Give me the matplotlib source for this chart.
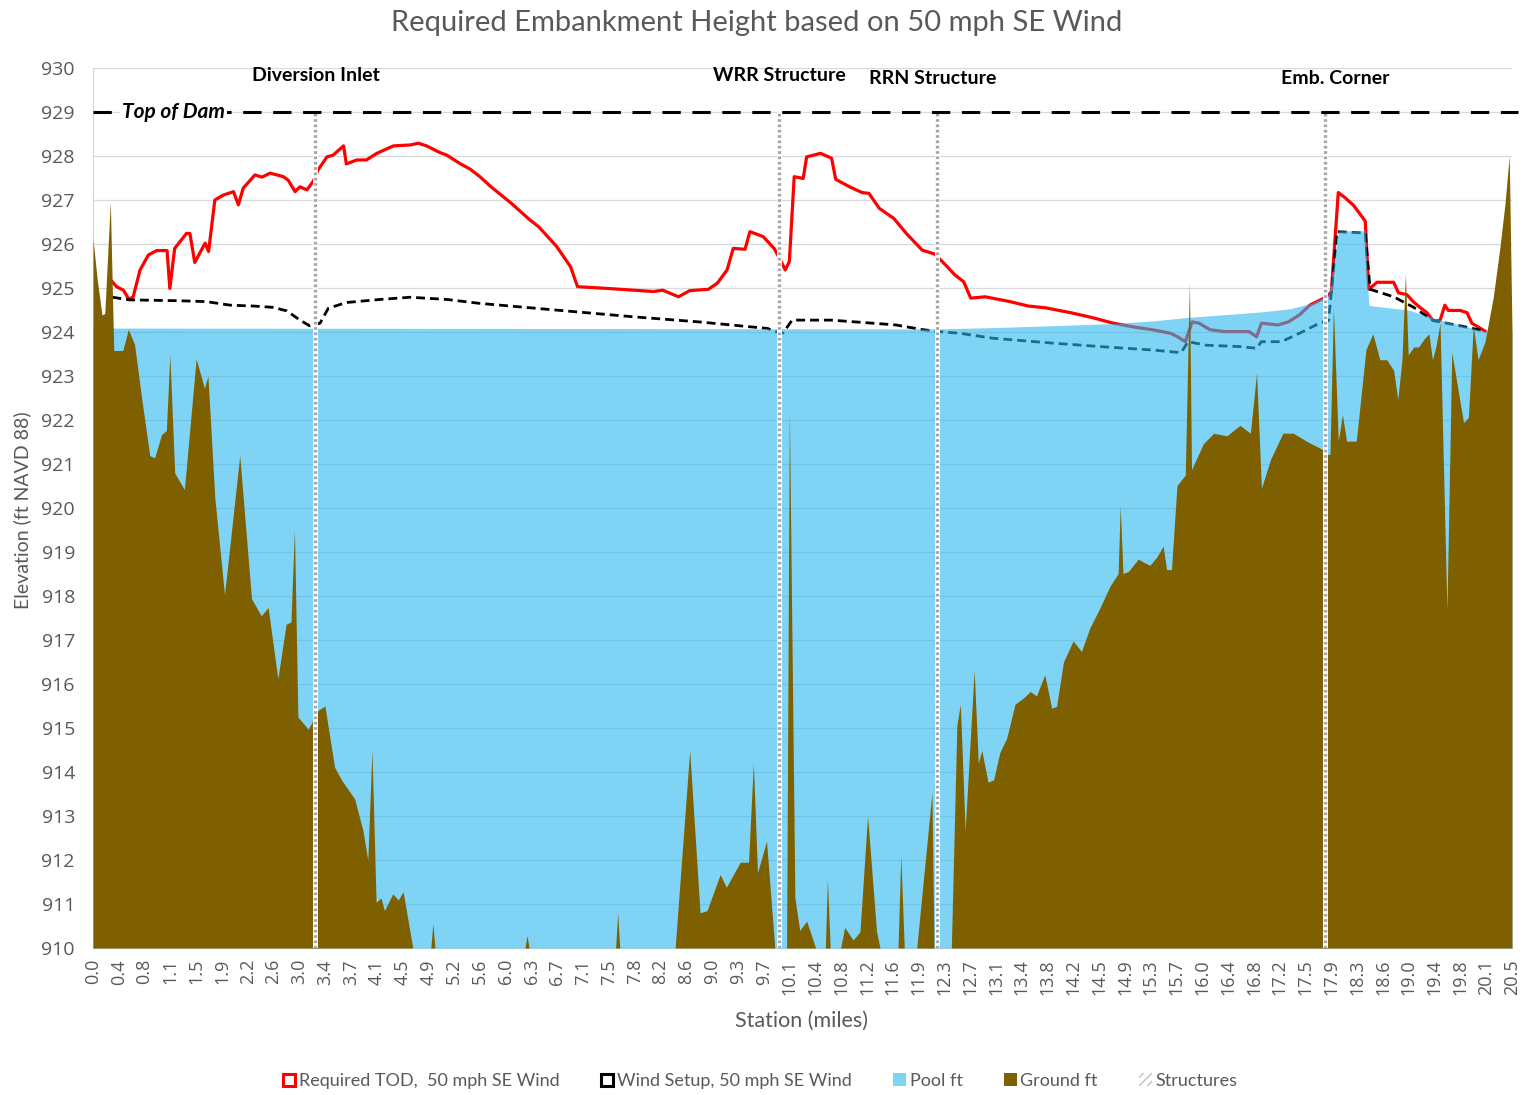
import numpy as np
import matplotlib
matplotlib.use("Agg")
import matplotlib.pyplot as plt
from matplotlib.lines import Line2D
from matplotlib.patches import Patch

plt.rcParams['font.family'] = ['Lato', 'DejaVu Sans']

# ---------------------------------------------------------------- data
station_ground = [
    0.00, 0.06, 0.13, 0.17, 0.25, 0.30, 0.43, 0.51, 0.60, 0.70, 0.82, 0.89, 0.99,
    1.06, 1.11, 1.18, 1.32, 1.49, 1.61, 1.66, 1.76, 1.90, 2.12, 2.29, 2.43, 2.53,
    2.67, 2.79, 2.86, 2.91, 2.96, 3.11, 3.25, 3.35, 3.49, 3.59, 3.78, 3.90, 3.97,
    4.03, 4.09, 4.16, 4.21, 4.33, 4.41, 4.48, 4.62, 4.88, 4.91, 4.94, 6.24, 6.27,
    6.30, 7.55, 7.58, 7.61, 8.41, 8.62, 8.77, 8.87, 9.06, 9.15, 9.35, 9.47, 9.54,
    9.60, 9.73, 9.85, 10.02, 10.06, 10.14, 10.21, 10.31, 10.44, 10.58, 10.61,
    10.65, 10.80, 10.86, 10.98, 11.08, 11.19, 11.32, 11.37, 11.63, 11.67, 11.72,
    11.90, 12.12, 12.15, 12.40, 12.48, 12.53, 12.60, 12.73, 12.79, 12.84, 12.93,
    13.01, 13.10, 13.20, 13.32, 13.44, 13.54, 13.63, 13.75, 13.85, 13.92, 14.02,
    14.16, 14.28, 14.40, 14.55, 14.69, 14.81, 14.84, 14.88, 14.96, 15.10, 15.20,
    15.27, 15.37, 15.46, 15.51, 15.58, 15.66, 15.78, 15.84, 15.87, 16.04, 16.19,
    16.38, 16.57, 16.72, 16.81, 16.88, 17.01, 17.19, 17.34, 17.53, 17.75, 17.82,
    17.87, 17.92, 17.99, 18.05, 18.11, 18.25, 18.39, 18.49, 18.59, 18.69, 18.79,
    18.85, 18.91, 18.96, 19.00, 19.08, 19.15, 19.23, 19.30, 19.35, 19.40, 19.46,
    19.56, 19.63, 19.75, 19.80, 19.87, 19.94, 20.01, 20.11, 20.23, 20.33, 20.40,
    20.46, 20.50]
ground_ft = [
    926.12, 925.20, 924.39, 924.42, 926.96, 923.58, 923.58, 924.06, 923.72, 922.53,
    921.19, 921.14, 921.67, 921.76, 923.48, 920.80, 920.42, 923.39, 922.72, 923.00,
    920.23, 918.03, 921.19, 917.94, 917.55, 917.74, 916.12, 917.36, 917.41, 919.51,
    915.25, 914.97, 915.40, 915.50, 914.11, 913.82, 913.39, 912.67, 912.00, 914.49,
    911.04, 911.14, 910.85, 911.23, 911.09, 911.28, 910.00, 910.00, 910.56, 910.00,
    910.00, 910.28, 910.00, 910.00, 910.80, 910.00, 910.00, 914.49, 910.80, 910.85,
    911.67, 911.38, 911.95, 911.95, 914.20, 911.71, 912.43, 910.00, 910.00, 922.24,
    911.14, 910.40, 910.61, 910.00, 910.00, 911.57, 910.00, 910.00, 910.47, 910.18,
    910.37, 913.00, 910.37, 910.00, 910.00, 912.10, 910.00, 910.00, 913.53, 910.00,
    910.00, 915.06, 915.54, 912.67, 916.31, 914.20, 914.49, 913.77, 913.82, 914.44,
    914.77, 915.54, 915.68, 915.83, 915.73, 916.21, 915.45, 915.49, 916.50, 916.98,
    916.74, 917.27, 917.74, 918.22, 918.51, 920.04, 918.51, 918.56, 918.84, 918.75,
    918.70, 918.89, 919.13, 918.60, 918.60, 920.51, 920.75, 925.15, 920.87, 921.46,
    921.70, 921.64, 921.88, 921.70, 923.07, 920.45, 921.10, 921.70, 921.70, 921.52,
    921.34, 921.22, 921.22, 924.56, 921.52, 922.12, 921.52, 921.52, 923.60, 923.96,
    923.37, 923.37, 923.13, 922.47, 923.37, 925.33, 923.48, 923.66, 923.66, 923.84,
    923.96, 923.37, 923.66, 924.20, 917.66, 923.54, 922.41, 921.94, 922.06, 924.14,
    923.37, 923.78, 924.80, 925.98, 926.94, 928.00, 924.02]

station_pool = [0.00, 12.20, 13.00, 14.00, 14.70, 15.30, 15.80, 16.40, 16.90, 17.30,
                17.60, 17.85, 17.92, 17.99, 18.38, 18.43, 18.45, 19.00, 19.45, 20.10,
                20.50]
pool_ft = [924.09, 924.07, 924.10, 924.15, 924.19, 924.25, 924.33, 924.40, 924.46,
           924.53, 924.65, 924.85, 925.50, 926.30, 926.30, 924.62, 924.60, 924.50,
           924.28, 924.02, 924.00]

station_tod = [
    0.28, 0.34, 0.44, 0.52, 0.58, 0.68, 0.80, 0.92, 1.07, 1.11, 1.18, 1.35, 1.40,
    1.47, 1.62, 1.67, 1.76, 1.88, 2.03, 2.10, 2.17, 2.34, 2.44, 2.56, 2.75, 2.82,
    2.92, 2.99, 3.09, 3.18, 3.25, 3.38, 3.47, 3.62, 3.66, 3.81, 3.95, 4.10, 4.34,
    4.58, 4.70, 4.82, 5.01, 5.11, 5.30, 5.45, 5.59, 5.75, 6.04, 6.31, 6.44, 6.70,
    6.90, 7.00, 7.43, 8.10, 8.23, 8.46, 8.62, 8.89, 9.02, 9.16, 9.25, 9.42, 9.49,
    9.68, 9.84, 9.92, 10.00, 10.06, 10.13, 10.26, 10.31, 10.51, 10.67, 10.73,
    10.93, 11.11, 11.21, 11.36, 11.57, 11.75, 11.98, 12.16, 12.32, 12.45, 12.58,
    12.68, 12.89, 13.25, 13.51, 13.76, 14.12, 14.43, 14.74, 15.05, 15.31, 15.57,
    15.67, 15.78, 15.88, 15.98, 16.14, 16.34, 16.70, 16.81, 16.88, 17.12, 17.27,
    17.43, 17.58, 17.73, 17.82, 17.89, 17.99, 18.09, 18.21, 18.38, 18.43, 18.55,
    18.79, 18.86, 18.98, 19.08, 19.17, 19.27, 19.36, 19.46, 19.53, 19.58, 19.75,
    19.85, 19.92, 20.11]
required_tod = [
    925.14, 925.03, 924.95, 924.74, 924.80, 925.41, 925.75, 925.85, 925.85, 924.99,
    925.90, 926.24, 926.24, 925.58, 926.02, 925.83, 927.00, 927.11, 927.19, 926.89,
    927.27, 927.57, 927.52, 927.61, 927.53, 927.45, 927.19, 927.30, 927.23, 927.42,
    927.68, 927.98, 928.02, 928.23, 927.82, 927.91, 927.91, 928.06, 928.23, 928.25,
    928.29, 928.23, 928.08, 928.02, 927.83, 927.70, 927.53, 927.30, 926.93, 926.55,
    926.39, 925.94, 925.48, 925.03, 924.99, 924.92, 924.95, 924.80, 924.94, 924.97,
    925.11, 925.41, 925.90, 925.88, 926.28, 926.17, 925.90, 925.67, 925.41, 925.60,
    927.53, 927.49, 927.98, 928.06, 927.95, 927.47, 927.30, 927.17, 927.15, 926.81,
    926.58, 926.24, 925.86, 925.77, 925.52, 925.30, 925.14, 924.77, 924.80, 924.69,
    924.59, 924.55, 924.44, 924.33, 924.20, 924.11, 924.05, 923.97, 923.89, 923.78,
    924.23, 924.20, 924.05, 924.01, 924.01, 923.89, 924.20, 924.16, 924.23, 924.39,
    924.61, 924.73, 924.80, 924.91, 927.17, 927.05, 926.88, 926.52, 924.97, 925.13,
    925.13, 924.89, 924.85, 924.68, 924.56, 924.44, 924.26, 924.26, 924.61, 924.49,
    924.49, 924.44, 924.20, 924.02]

station_setup = [
    0.28, 0.53, 1.26, 1.64, 1.98, 2.32, 2.60, 2.80, 2.99, 3.13, 3.28, 3.40, 3.66,
    4.15, 4.58, 5.11, 5.59, 7.77, 8.75, 9.75, 9.84, 9.97, 10.10, 10.66, 11.18,
    11.60, 11.96, 12.21, 12.53, 12.99, 13.76, 14.54, 15.31, 15.72, 15.82, 16.08,
    16.55, 16.81, 16.88, 17.17, 17.48, 17.73, 17.85, 17.92, 17.97, 18.38, 18.45,
    18.79, 19.08, 19.36, 19.75, 20.11]
wind_setup = [
    924.79, 924.73, 924.71, 924.69, 924.61, 924.59, 924.56, 924.48, 924.27, 924.14,
    924.20, 924.54, 924.67, 924.74, 924.79, 924.74, 924.65, 924.35, 924.23, 924.08,
    924.01, 923.98, 924.27, 924.27, 924.21, 924.16, 924.06, 924.01, 923.97, 923.86,
    923.76, 923.67, 923.59, 923.53, 923.78, 923.70, 923.67, 923.63, 923.78, 923.78,
    924.01, 924.21, 924.26, 925.39, 926.28, 926.25, 924.97, 924.80, 924.56, 924.26,
    924.14, 924.02]

structure_stations = [3.21, 9.91, 12.19, 17.80]
structure_names = ["Diversion Inlet", "WRR Structure", "RRN Structure", "Emb. Corner"]
structure_label_x = [3.22, 9.92, 12.13, 17.94]
structure_label_y = [929.82, 929.82, 929.77, 929.77]

top_of_dam = 929.0

tick_labels = [
    "0.0", "0.4", "0.8", "1.1", "1.5", "1.9", "2.2", "2.6", "3.0", "3.4", "3.7",
    "4.1", "4.5", "4.9", "5.2", "5.6", "6.0", "6.3", "6.7", "7.1", "7.5", "7.8",
    "8.2", "8.6", "9.0", "9.3", "9.7", "10.1", "10.4", "10.8", "11.2", "11.6",
    "11.9", "12.3", "12.7", "13.1", "13.4", "13.8", "14.2", "14.5", "14.9", "15.3",
    "15.7", "16.0", "16.4", "16.8", "17.2", "17.5", "17.9", "18.3", "18.6", "19.0",
    "19.4", "19.8", "20.1", "20.5"]

# ---------------------------------------------------------------- styling
GREY_TXT = "#595959"
GRID = "#D9D9D9"
RED = "#FF0000"
POOL = "#2AB7EE"        # drawn at alpha 0.6 -> light sky blue on white
POOL_SOLID = "#7FD4F5"
GROUND = "#7F6000"
TICK_FONT = ['Open Sans', 'DejaVu Sans']

W, H = 1523, 1095
fig = plt.figure(figsize=(W / 100, H / 100), dpi=100)
ax = fig.add_axes([93 / W, 1 - 948 / H, (1512 - 93) / W, (948 - 68) / H])

x_min, x_max = station_ground[0], station_ground[-1]
ax.set_xlim(x_min, x_max)
ax.set_ylim(910, 930)

ax.set_yticks(np.arange(910, 931, 1))
ax.set_yticklabels([str(v) for v in range(910, 931)], family=TICK_FONT)
ax.set_xticks(np.linspace(x_min, x_max, len(tick_labels)))
ax.set_xticklabels(tick_labels, rotation=90, family=TICK_FONT)
ax.tick_params(axis='y', length=0, pad=13, labelsize=14, labelcolor=GREY_TXT)
ax.tick_params(axis='x', length=0, pad=8, labelsize=13, labelcolor=GREY_TXT)

ax.grid(axis='y', color=GRID, lw=0.9)
ax.set_axisbelow(True)
for side in ("top", "right"):
    ax.spines[side].set_visible(False)
for side in ("left", "bottom"):
    ax.spines[side].set_color(GRID)
    ax.spines[side].set_linewidth(0.9)

# lines sit beneath the translucent pool, so they tint where the pool covers them
ax.plot(station_tod, required_tod, color=RED, lw=2.3, zorder=2,
        solid_joinstyle='round')
ax.plot(station_setup, wind_setup, color="black", lw=2.0, zorder=2,
        dashes=(3.2, 1.8))

ax.fill_between(station_pool, 910, pool_ft, color=POOL, alpha=0.6, lw=0, zorder=3)
ax.fill_between(station_ground, 910, ground_ft, color=GROUND, lw=0, zorder=4)

# structure markers
for s in structure_stations:
    ax.plot([s, s], [910, top_of_dam], color="white", lw=3.6, zorder=5,
            solid_capstyle='butt')
    ax.plot([s, s], [910, top_of_dam], color="#A6A6A6", lw=2.4, zorder=6,
            dashes=(0.8, 0.8))

for name, lx, ly in zip(structure_names, structure_label_x, structure_label_y):
    ax.text(lx, ly, name, ha='center', va='center', fontsize=14,
            fontweight='bold', color='black', zorder=7)

# top of dam
ax.plot([x_min, x_max + 0.08], [top_of_dam, top_of_dam], color='black', lw=2.2,
        dashes=(6, 3.8), zorder=7, clip_on=False)
ax.text(1.16, top_of_dam, "Top of Dam", ha='center', va='center', fontsize=15,
        fontweight='bold', style='italic', color='black', zorder=8,
        bbox=dict(facecolor='white', edgecolor='none', pad=1.5))

# titles
fig.text(757 / W, 1 - 23 / H, "Required Embankment Height based on 50 mph SE Wind",
         ha='center', va='center', fontsize=21, color=GREY_TXT)
fig.text(22 / W, 1 - 510 / H, "Elevation (ft NAVD 88)", rotation=90,
         ha='center', va='center', fontsize=14, color=GREY_TXT)
fig.text(802 / W, 1 - 1021 / H, "Station (miles)", ha='center', va='center',
         fontsize=15.5, color=GREY_TXT)

# legend
handles = [
    Line2D([], [], ls='none', marker='s', ms=9, mfc='white', mec=RED, mew=2.2),
    Line2D([], [], ls='none', marker='s', ms=9, mfc='white', mec='black', mew=2.2),
    Patch(facecolor=POOL_SOLID, edgecolor='none'),
    Patch(facecolor=GROUND, edgecolor='none'),
    Patch(facecolor='white', edgecolor='#BFBFBF', hatch='////', lw=0),
]
labels = ["Required TOD,  50 mph SE Wind", "Wind Setup, 50 mph SE Wind",
          "Pool ft", "Ground ft", "Structures"]
fig.legend(handles, labels, loc='center', bbox_to_anchor=(760 / W, 1 - 1081 / H),
           ncol=5, frameon=False, fontsize=13, labelcolor=GREY_TXT,
           handlelength=0.7, handleheight=0.7, handletextpad=0.2,
           columnspacing=2.3)

fig.savefig("out.png", dpi=100)
